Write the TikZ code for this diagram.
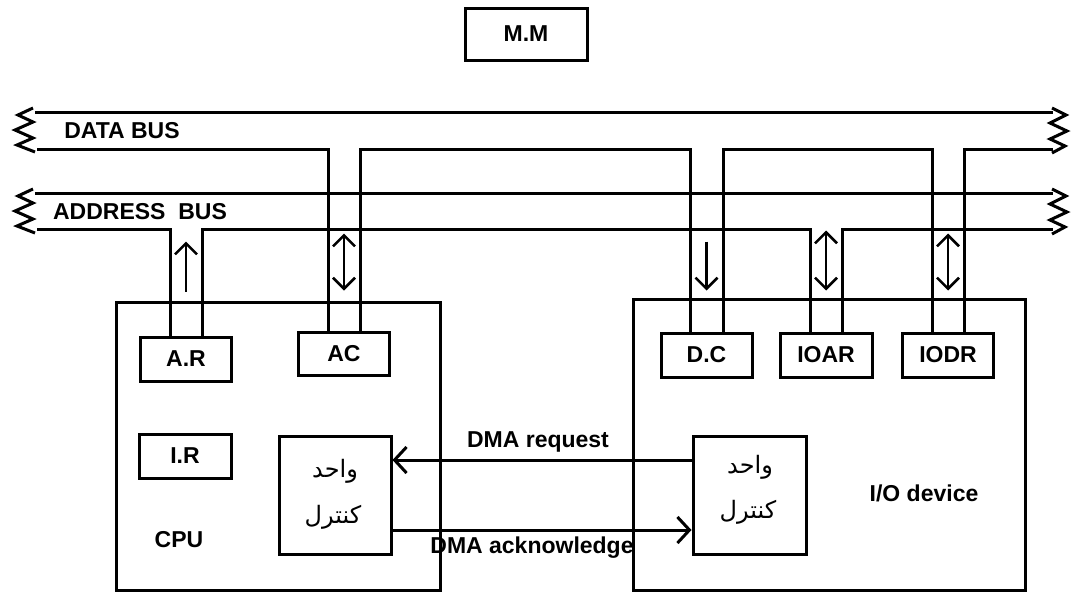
\documentclass[tikz,border=0pt]{standalone}
\usepackage{fontspec}
\setmainfont{Liberation Sans}
\newfontfamily\arabicfont[Script=Arabic]{DejaVu Sans}
\TeXXeTstate=1
\usetikzlibrary{arrows.meta}
\newcommand\dgfont{\fontsize{23}{26}\selectfont\bfseries}
\newcommand\arfont{\arabicfont\fontsize{24}{28}\selectfont}
\begin{document}
\begin{tikzpicture}[x=1pt,y=-1pt,
  box/.style={draw, line width=3pt, inner sep=0pt, font=\dgfont},
  lbl/.style={inner sep=0pt, font=\dgfont},
  ar/.style={inner sep=0pt, font=\arfont},
  bus/.style={line width=3pt},
  zig/.style={line width=3pt, line join=miter},
  up/.style={line width=2.5pt, -{Straight Barb[length=11pt,width=22pt]}},
  dbl/.style={line width=2.5pt, {Straight Barb[length=11pt,width=22pt]}-{Straight Barb[length=11pt,width=22pt]}},
  dma/.style={line width=3pt, -{Straight Barb[length=12pt,width=26pt]}}
]
\useasboundingbox (0,0) rectangle (1071,592);
% boxes
\node[box, minimum width=122, minimum height=52] (mm) at (526,34) {M.M};
\node[box, minimum width=324, minimum height=288] (cpu) at (278,446) {};
\node[box, minimum width=392, minimum height=291] (io) at (829,444.5) {};
\node[box, minimum width=91, minimum height=44] (AR) at (186,359) {A.R};
\node[box, minimum width=91, minimum height=43] (AC) at (344,353.5) {AC};
\node[box, minimum width=92, minimum height=44] (IR) at (185,456) {I.R};
\node[box, minimum width=112, minimum height=118] (CCPU) at (335,495) {};
\node[box, minimum width=91, minimum height=44] (DC) at (706.5,355) {D.C};
\node[box, minimum width=92, minimum height=44] (IOAR) at (826,355) {IOAR};
\node[box, minimum width=91, minimum height=44] (IODR) at (948,355) {IODR};
\node[box, minimum width=113, minimum height=118] (CIO) at (749.5,495) {};
% data bus
\draw[bus] (35,112) -- (1053,112);
\draw[bus] (37,149) -- (328,149) -- ([xshift=-16pt]AC.north);
\draw[bus] ([xshift=16pt]AC.north) |- (690,149) -- ([xshift=-16.5pt]DC.north);
\draw[bus] ([xshift=16.5pt]DC.north) |- (932,149) -- ([xshift=-16pt]IODR.north);
\draw[bus] ([xshift=16pt]IODR.north) |- (1053,149);
% address bus
\draw[bus] (35,193) -- (1053,193);
\draw[bus] (37,229) -- (170,229) -- ([xshift=-16pt]AR.north);
\draw[bus] ([xshift=16pt]AR.north) |- (810,229) -- ([xshift=-16pt]IOAR.north);
\draw[bus] ([xshift=16pt]IOAR.north) |- (1053,229);
% zigzags
\draw[zig] (33,108) -- (18,115) -- (33,122) -- (15,130) -- (33,138) -- (17,145) -- (35,152);
\draw[zig] (33,189) -- (18,196) -- (33,203) -- (15,211) -- (33,219) -- (17,226) -- (35,233);
\draw[zig] (1052,108) -- (1066,115) -- (1050,123) -- (1067,131) -- (1050,139) -- (1065,146) -- (1052,153);
\draw[zig] (1052,189) -- (1066,196) -- (1050,204) -- (1067,212) -- (1050,220) -- (1065,227) -- (1052,234);
% bus arrows
\draw[up] ([yshift=44pt]AR.north) -- ([yshift=94pt]AR.north);
\draw[dbl] ([yshift=40pt]AC.north) -- ([yshift=97pt]AC.north);
\draw[up] ([yshift=90pt]DC.north) -- ([yshift=41pt]DC.north);
\draw[dbl] ([yshift=41pt]IOAR.north) -- ([yshift=101pt]IOAR.north);
\draw[dbl] ([yshift=41pt]IODR.north) -- ([yshift=98pt]IODR.north);
% DMA
\draw[dma] ([yshift=35pt]CIO.west) -- ([yshift=35pt]CCPU.east);
\draw[dma] ([yshift=-35pt]CCPU.east) -- ([yshift=-35pt]CIO.west);
% labels
\node[lbl] (req) at (538,442) {DMA request};
\node[lbl] (ack) at (532,548) {DMA acknowledge};
\node[lbl] (db) at (122,131) {DATA BUS};
\node[lbl] (ab) at (140,212) {ADDRESS\ \ BUS};
\node[lbl] (cpulbl) at (179,540) {CPU};
\node[lbl] (iolbl) at (924,493) {I/O device};
\node[ar] (w1) at (335,471) {\beginR واحد\endR};
\node[ar] (k1) at (333,517) {\beginR کنترل\endR};
\node[ar] (w2) at (750,467) {\beginR واحد\endR};
\node[ar] (k2) at (748,512) {\beginR کنترل\endR};
\end{tikzpicture}
\end{document}
